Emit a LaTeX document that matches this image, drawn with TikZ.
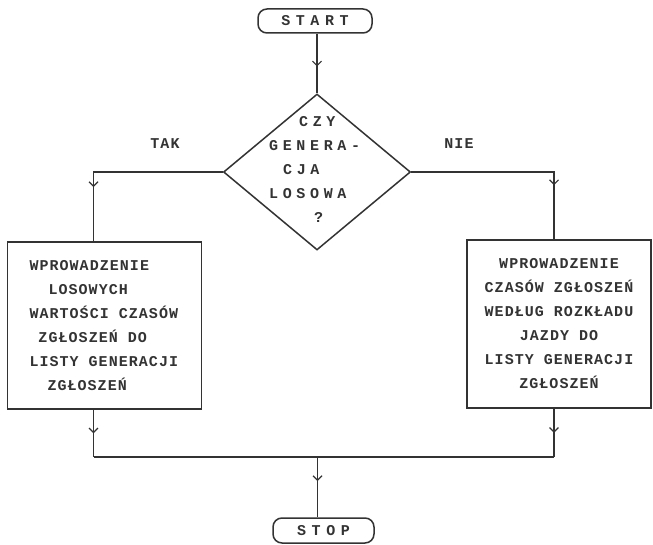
\documentclass[tikz,border=0pt]{standalone}
\usepackage{fontspec}
\usetikzlibrary{shapes.geometric,arrows.meta,decorations.markings}

% typewriter-like faces for the flowchart
\newfontfamily\boxfont[LetterSpace=7]{Liberation Mono}
\newfontfamily\askfont[LetterSpace=31]{Liberation Mono}
\newfontfamily\termfont[LetterSpace=37]{Liberation Mono}
\newcommand\gap{\hspace*{10pt}}

\definecolor{ink}{gray}{0.2}

\tikzset{
  flowline/.style={draw=ink, line width=1.5pt},
  midtip/.style={postaction={decorate},
    decoration={markings, mark=at position #1 with
      {\arrow[ink, line width=1.2pt]{Straight Barb[length=4.5pt,width=9pt]}}}},
  term/.style={draw=ink, line width=1.5pt, rounded corners=9pt,
    inner sep=0pt, text=ink, font=\termfont\bfseries\fontsize{15}{16}\selectfont},
  decision/.style={diamond, draw=ink, line width=1.5pt, inner sep=0pt},
  asktext/.style={inner sep=0pt, text=ink, align=left,
    font=\askfont\bfseries\fontsize{15}{24}\selectfont},
  procbox/.style={draw=ink, line width=1.6pt, inner sep=0pt, text=ink,
    font=\boxfont\bfseries\fontsize{15}{24}\selectfont},
  branchlabel/.style={inner sep=0pt, text=ink,
    font=\boxfont\bfseries\fontsize{15}{16}\selectfont}
}

\begin{document}
\begin{tikzpicture}[x=1pt,y=-1pt]
\path[use as bounding box] (0,0) rectangle (653,545);

% terminals
\node[term, minimum width=114pt, minimum height=24pt] (start) at (315,21) {START};
\node[term, minimum width=101pt, minimum height=25pt] (stop) at (323.5,530.5) {STOP};

% decision
\node[decision, minimum width=187pt, minimum height=156pt] (d) at (317,172) {};
\node[asktext, anchor=west] (ask) at (269,169)
  {\hspace*{30pt}CZY\\GENERA-\\\hspace*{14pt}CJA\\LOSOWA\\\hspace*{45pt}?};

\node[branchlabel] (tak) at (165,144) {TAK};
\node[branchlabel] (nie) at (459,144) {NIE};

% process boxes
\node[procbox, minimum width=194pt, minimum height=167pt, text width=150pt,
      align=left] (lbox) at (104.5,325.4)
  {WPROWADZENIE\\\hspace*{19pt}LOSOWYCH\\WARTOŚCI\gap CZASÓW\\\hspace*{9pt}ZGŁOSZEŃ\gap DO\\LISTY\gap GENERACJI\\\hspace*{18pt}ZGŁOSZEŃ};
\node[procbox, minimum width=184pt, minimum height=168pt, text width=170pt,
      align=center] (rbox) at (559,324)
  {WPROWADZENIE\\CZASÓW\gap ZGŁOSZEŃ\\WEDŁUG\gap ROZKŁADU\\JAZDY\gap DO\\LISTY\gap GENERACJI\\ZGŁOSZEŃ};

% connector columns and the merge point
\coordinate (lcol) at (93.5,0);
\coordinate (rcol) at (554,0);
\coordinate (join) at (317.5,457);

% connectors
\draw[flowline, midtip=0.55] (d.north |- start.south) -- (d.north);
\draw[flowline, midtip=-54pt] (d.west) -- (d.west -| lcol) -- (lcol |- lbox.north);
\draw[flowline, midtip=-54pt] (d.east) -- (d.east -| rcol) -- (rcol |- rbox.north);
\draw[flowline, midtip=0.5] (lcol |- lbox.south) -- (lcol |- join);
\draw[flowline, midtip=0.5] (rcol |- rbox.south) -- (rcol |- join);
\draw[flowline] (lcol |- join) -- (rcol |- join);
\draw[flowline, midtip=0.4] (join) -- (join |- stop.north);
\end{tikzpicture}
\end{document}
